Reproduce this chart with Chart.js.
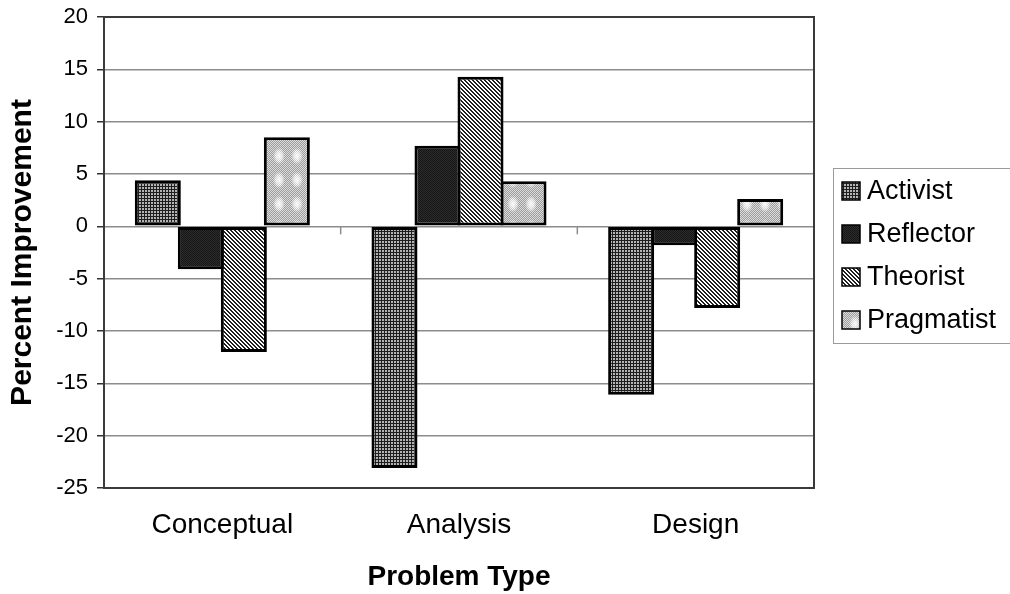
<!DOCTYPE html>
<html>
<head>
<meta charset="utf-8">
<title>Percent Improvement by Problem Type</title>
<script src="https://cdn.jsdelivr.net/npm/chart.js@4/dist/chart.umd.min.js"></script>
<style>
  html, body { margin: 0; padding: 0; background: #ffffff; }
  #wrap { width: 1010px; height: 594px; }
</style>
</head>
<body>
<div id="wrap"><canvas id="c" width="1010" height="594"></canvas></div>
<script>
// ---- data ----
const categories = ['Conceptual', 'Analysis', 'Design'];
const seriesNames = ['Activist', 'Reflector', 'Theorist', 'Pragmatist'];
const activist   = [4.4, -23.1, -16.1];
const reflector  = [-4.1, 7.7, -1.8];
const theorist   = [-12.0, 14.3, -7.8];
const pragmatist = [8.5, 4.3, 2.6];
const yMin = -25, yMax = 20, yStep = 5;

const FONT = '"Liberation Sans", Arial, Helvetica, sans-serif';
const canvas = document.getElementById('c');
const mainCtx = canvas.getContext('2d');

// ---- monochrome fill patterns ----
function tile(w, h, paint) {
  const t = document.createElement('canvas');
  t.width = w; t.height = h;
  paint(t.getContext('2d'), w, h);
  return mainCtx.createPattern(t, 'repeat');
}
function px(g, x, y, col) { g.fillStyle = col; g.fillRect(x, y, 1, 1); }

// fine grid: dark lines around light cells
const patActivist = tile(3, 3, (g) => {
  g.fillStyle = '#1e1e1e'; g.fillRect(0, 0, 3, 3);
  g.fillStyle = '#b4b4b4'; g.fillRect(1, 1, 2, 2);
});
// near-solid black with a faint texture
const patReflector = tile(2, 2, (g) => {
  g.fillStyle = '#161616'; g.fillRect(0, 0, 2, 2);
  px(g, 1, 0, '#2c2c2c'); px(g, 0, 1, '#2c2c2c');
});
// dense diagonal hatch running down to the right
const patTheorist = tile(4, 4, (g) => {
  g.fillStyle = '#ffffff'; g.fillRect(0, 0, 4, 4);
  for (let y = 0; y < 4; y++) for (let x = 0; x < 4; x++) {
    const d = ((x - y) % 4 + 4) % 4;
    if (d === 0 || d === 1) px(g, x, y, '#202020');
  }
});
// light grey stipple with soft white spots
const patPragmatist = tile(18, 24, (g, w, h) => {
  for (let y = 0; y < h; y++) for (let x = 0; x < w; x++) {
    px(g, x, y, (x + y) % 2 ? '#9c9c9c' : '#dcdcdc');
  }
  g.save();
  g.translate(9, 12);
  g.scale(1, 1.4);
  const rg = g.createRadialGradient(0, 0, 0, 0, 0, 6);
  rg.addColorStop(0, 'rgba(255,255,255,0.95)');
  rg.addColorStop(0.55, 'rgba(255,255,255,0.6)');
  rg.addColorStop(1, 'rgba(255,255,255,0)');
  g.fillStyle = rg;
  g.beginPath(); g.arc(0, 0, 6, 0, Math.PI * 2); g.fill();
  g.restore();
});

const fills = [patActivist, patReflector, patTheorist, patPragmatist];
const values = [activist, reflector, theorist, pragmatist];

// neighbouring bars share their outline, so each bar is a little wider than its slot
const datasets = seriesNames.map((name, i) => ({
  label: name,
  data: values[i],
  backgroundColor: fills[i],
  borderColor: '#000000',
  borderWidth: 3,
  borderSkipped: false,
  categoryPercentage: 0.727,
  barPercentage: 1.07
}));

// frame around the plot area and category tick marks on the zero line
const plotFrame = {
  id: 'plotFrame',
  afterDatasetsDraw(chart) {
    const { ctx, chartArea: a, scales: { x, y } } = chart;
    const y0 = y.getPixelForValue(0);
    ctx.save();
    ctx.strokeStyle = '#8c8c8c';
    ctx.lineWidth = 1.5;
    for (let i = 0; i < categories.length - 1; i++) {
      const bx = (x.getPixelForValue(i) + x.getPixelForValue(i + 1)) / 2;
      ctx.beginPath();
      ctx.moveTo(bx, y0);
      ctx.lineTo(bx, y0 + 8);
      ctx.stroke();
    }
    ctx.strokeStyle = '#3a3a3a';
    ctx.lineWidth = 2;
    ctx.strokeRect(a.left, a.top, a.right - a.left, a.bottom - a.top);
    ctx.restore();
  }
};

// boxed legend to the right of the plot
const boxedLegend = {
  id: 'boxedLegend',
  afterDraw(chart) {
    const { ctx, chartArea: a } = chart;
    const left = a.right + 19, top = 168, bottom = 343;
    ctx.save();
    ctx.strokeStyle = '#9a9a9a';
    ctx.lineWidth = 1;
    ctx.strokeRect(left + 0.5, top + 0.5, 1010 - left + 10, bottom - top);
    ctx.font = '27px ' + FONT;
    ctx.textBaseline = 'middle';
    ctx.textAlign = 'left';
    chart.data.datasets.forEach((ds, i) => {
      const cy = top + 23 + i * 43;
      const sx = left + 9, sz = 18;
      ctx.fillStyle = ds.backgroundColor;
      ctx.fillRect(sx, cy - sz / 2, sz, sz);
      ctx.strokeStyle = '#000000';
      ctx.lineWidth = 1.5;
      ctx.strokeRect(sx, cy - sz / 2, sz, sz);
      ctx.fillStyle = '#000000';
      ctx.fillText(ds.label, left + 34, cy + 1);
    });
    ctx.restore();
  }
};

new Chart(canvas, {
  type: 'bar',
  data: { labels: categories, datasets },
  options: {
    responsive: false,
    animation: false,
    devicePixelRatio: 1,
    layout: { padding: { left: 5, right: 196, top: 17, bottom: 0 } },
    plugins: {
      legend: { display: false },
      tooltip: { enabled: false },
      title: { display: false }
    },
    scales: {
      x: {
        grid: { display: false },
        border: { display: false },
        ticks: {
          color: '#000000',
          font: { family: FONT, size: 28 },
          padding: 12,
          maxRotation: 0
        },
        title: {
          display: true,
          text: 'Problem Type',
          color: '#000000',
          font: { family: FONT, size: 28, weight: 'bold' },
          padding: { top: 0, bottom: 0 }
        },
        afterFit(scale) { scale.height = 106; }
      },
      y: {
        min: yMin,
        max: yMax,
        grid: {
          color: '#8c8c8c',
          lineWidth: 1.5,
          tickColor: '#333333',
          tickLength: 7,
          drawTicks: true
        },
        border: { display: false },
        ticks: {
          stepSize: yStep,
          color: '#000000',
          font: { family: FONT, size: 22 },
          padding: 9
        },
        title: {
          display: true,
          text: 'Percent Improvement',
          color: '#000000',
          font: { family: FONT, size: 30, weight: 'bold' },
          padding: { top: 0, bottom: 0 }
        },
        afterFit(scale) {
          scale.width = 99;
          scale.paddingTop = 0;
          scale.paddingBottom = 0;
        }
      }
    }
  },
  plugins: [plotFrame, boxedLegend]
});
</script>
</body>
</html>
